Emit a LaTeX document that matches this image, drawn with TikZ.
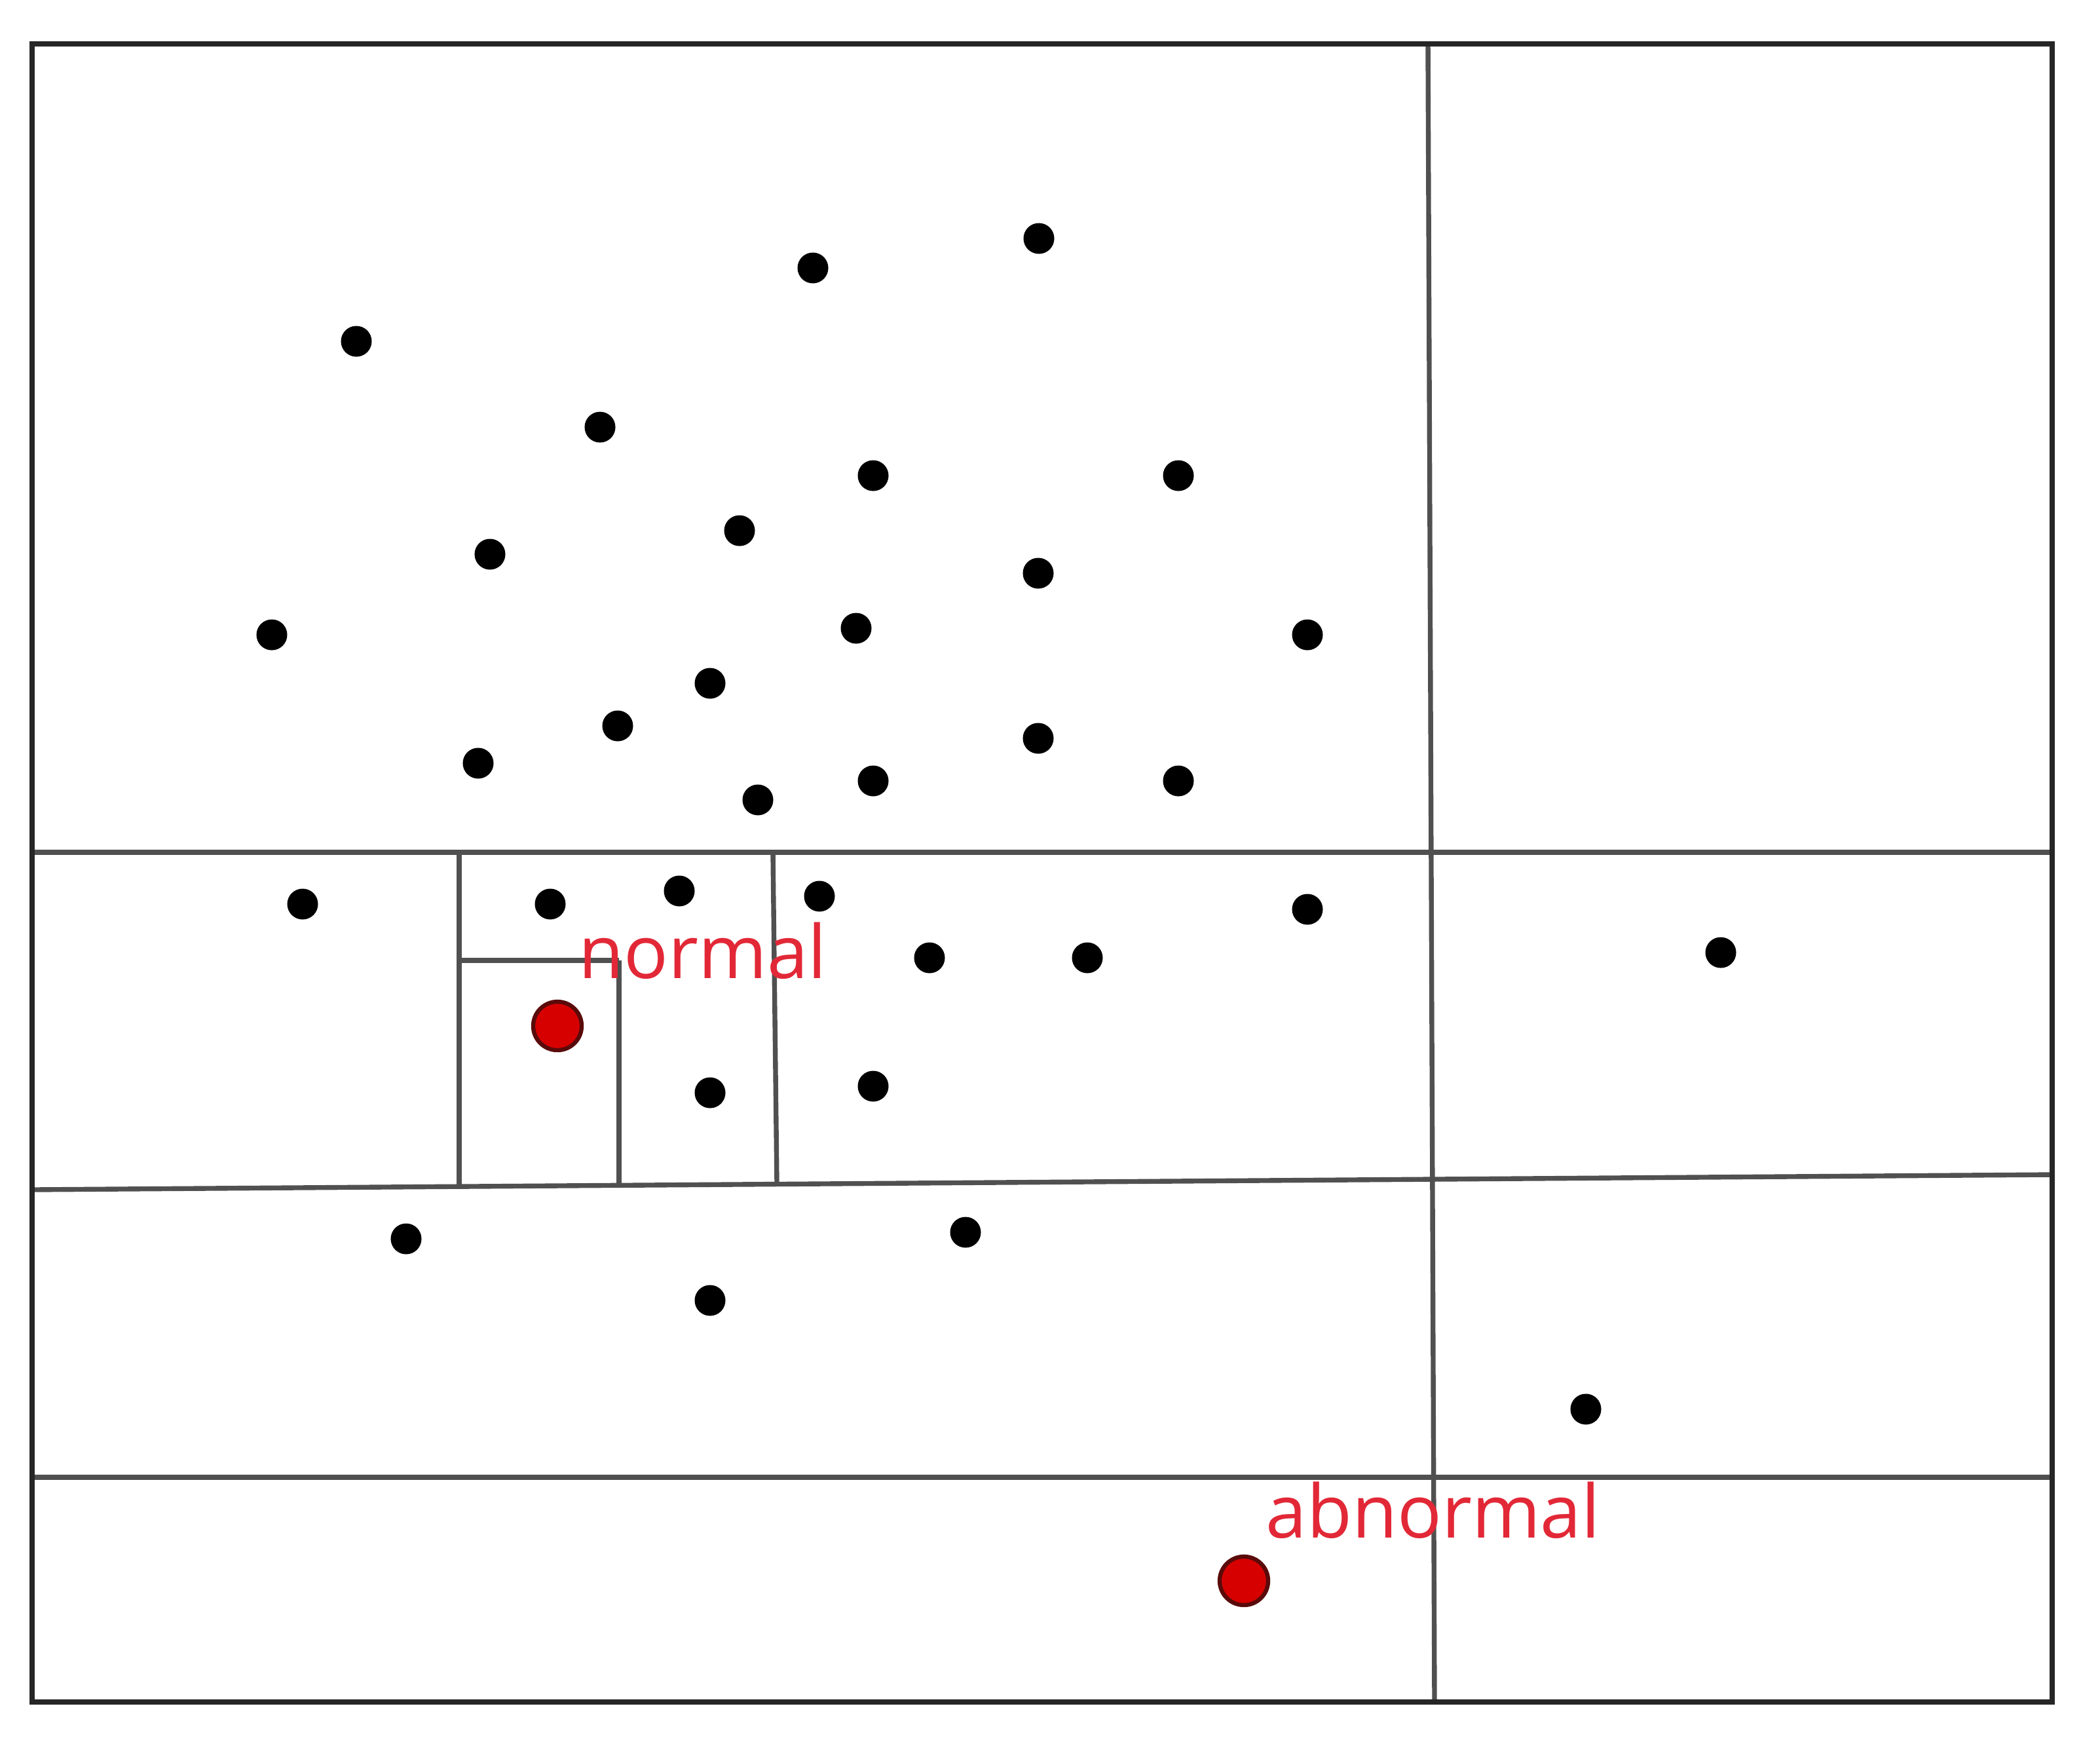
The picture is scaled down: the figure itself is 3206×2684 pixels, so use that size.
\documentclass[tikz,border=0pt]{standalone}
\usepackage{fontspec}
\setmainfont{Open Sans}
\definecolor{lbl}{RGB}{226,40,55}
\definecolor{rdot}{RGB}{215,0,0}
\definecolor{rline}{RGB}{90,10,10}
\definecolor{ln}{RGB}{80,80,80}
\tikzset{
  dot/.style={circle,fill=black,inner sep=0pt,minimum size=0.47cm},
  reddot/.style={circle,fill=rdot,draw=rline,line width=1.8pt,inner sep=0pt,minimum size=0.74cm},
  frame/.style={draw=black!85,line width=2.2pt},
  part/.style={draw=ln,line width=2.1pt},
  lbltext/.style={text=lbl,inner sep=0pt,anchor=base west,font=\fontsize{32}{38}\selectfont}
}
\begin{document}
\begin{tikzpicture}[x=0.01cm,y=-0.01cm]
\useasboundingbox (0,0) rectangle (3206,2684);
\fill[white] (0,0) rectangle (3206,2684);
% partition lines
\draw[part] (2180,67) -- (2190,2598);
\draw[part] (49,1301) -- (3133,1301);
\draw[part] (49,1816) -- (3133,1793);
\draw[part] (49,2255) -- (3133,2255);
\draw[part] (701,1301) -- (701,1811);
\draw[part] (1180,1301) -- (1186,1806);
\draw[part] (945,1466) -- (945,1809);
\draw[part] (701,1466) -- (945,1466);
\draw[frame] (49,67) rectangle (3133,2598);
% black points
\node[dot] (p1) at (1586,364) {};
\node[dot] (p2) at (1241,409) {};
\node[dot] (p3) at (544,521) {};
\node[dot] (p4) at (916,652) {};
\node[dot] (p5) at (1333,726) {};
\node[dot] (p6) at (1799,726) {};
\node[dot] (p7) at (1129,810) {};
\node[dot] (p8) at (748,846) {};
\node[dot] (p9) at (1585,875) {};
\node[dot] (p10) at (415,969) {};
\node[dot] (p11) at (1307,959) {};
\node[dot] (p12) at (1996,969) {};
\node[dot] (p13) at (1084,1043) {};
\node[dot] (p14) at (943,1108) {};
\node[dot] (p15) at (730,1165) {};
\node[dot] (p16) at (1585,1127) {};
\node[dot] (p17) at (1333,1192) {};
\node[dot] (p18) at (1799,1192) {};
\node[dot] (p19) at (1157,1221) {};
\node[dot] (p20) at (462,1380) {};
\node[dot] (p21) at (840,1380) {};
\node[dot] (p22) at (1037,1360) {};
\node[dot] (p23) at (1251,1368) {};
\node[dot] (p24) at (1996,1388) {};
\node[dot] (p25) at (1419,1462) {};
\node[dot] (p26) at (1660,1462) {};
\node[dot] (p27) at (2627,1454) {};
\node[dot] (p28) at (1084,1668) {};
\node[dot] (p29) at (1333,1658) {};
\node[dot] (p30) at (620,1891) {};
\node[dot] (p31) at (1474,1881) {};
\node[dot] (p32) at (1084,1985) {};
\node[dot] (p33) at (2421,2151) {};
% red points and labels
\node[reddot] (rn) at (851,1566) {};
\node[reddot] (ra) at (1899,2413) {};
\node[lbltext] (tn) at (883,1493) {normal};
\node[lbltext] (ta) at (1932,2347) {abnormal};
\end{tikzpicture}
\end{document}
